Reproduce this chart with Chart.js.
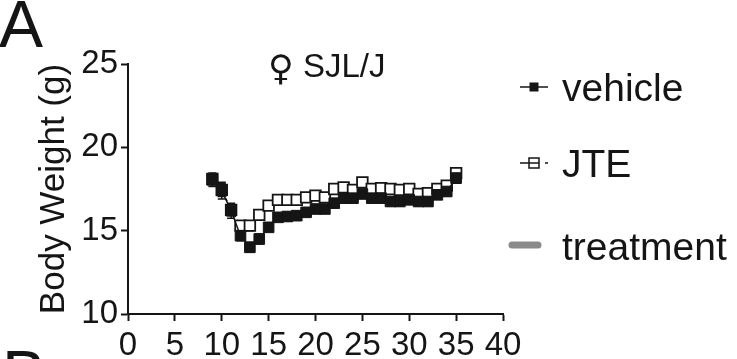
<!DOCTYPE html>
<html>
<head>
<meta charset="utf-8">
<script src="https://cdn.jsdelivr.net/npm/chart.js@4.4.1/dist/chart.umd.min.js"></script>
<style>
  html, body { margin: 0; padding: 0; background: #fff; }
  #wrap { position: relative; width: 737px; height: 359px; overflow: hidden;
          font-family: "Liberation Sans", Arial, sans-serif; color: #151515; }
  canvas { position: absolute; left: 0; top: 0; }
  .panel { position: absolute; font-size: 66px; line-height: 1; }
  .ttl { position: absolute; line-height: 1; white-space: nowrap; }
</style>
</head>
<body>
<div id="wrap">
  <canvas id="grafico" width="737" height="359"></canvas>
  <div class="panel" style="left:-1px; top:-9px">A</div>
  <div class="panel" style="left:2px; top:341px">B</div>
  <div class="ttl" style="left:268px; top:51px; font-size:35px; font-family:'DejaVu Sans'">♀</div>
  <div class="ttl" style="left:303px; top:49px; font-size:33px">SJL/J</div>
</div>
<script>
// dias del experimento
const days = [9, 10, 11, 12, 13, 14, 15, 16, 17, 18, 19, 20, 21, 22, 23, 24, 25, 26, 27, 28, 29, 30, 31, 32, 33, 34, 35];

// peso corporal medio (g)
const vehicle = [18.05, 17.4, 16.2, 14.7, 14.0, 14.5, 15.2, 15.8, 15.85, 15.9, 16.1, 16.3, 16.3, 16.65, 16.95, 16.95, 17.2, 16.95, 16.95, 16.75, 16.75, 16.85, 16.75, 16.75, 17.15, 17.35, 18.15];
const jte = [18.1, 17.45, 16.25, 15.3, 15.3, 15.95, 16.5, 16.85, 16.85, 16.85, 17.0, 17.1, 17.0, 17.5, 17.6, 17.45, 17.9, 17.5, 17.55, 17.5, 17.45, 17.5, 17.2, 17.25, 17.5, 17.7, 18.45];

// error estandar
const vehicleSem = [0.4, 0.5, 0.45, 0.3, 0.3, 0.3, 0.25, 0.25, 0.25, 0.25, 0.25, 0.25, 0.25, 0.25, 0.25, 0.25, 0.25, 0.25, 0.25, 0.25, 0.25, 0.25, 0.25, 0.25, 0.25, 0.25, 0.3];
const jteSem = [0.35, 0.4, 0.35, 0.3, 0.3, 0.25, 0.25, 0.25, 0.25, 0.25, 0.25, 0.25, 0.25, 0.25, 0.25, 0.25, 0.25, 0.25, 0.25, 0.25, 0.25, 0.25, 0.25, 0.25, 0.25, 0.25, 0.25];

const xTicks = [0, 5, 10, 15, 20, 25, 30, 35, 40];
const yTicks = [10, 15, 20, 25];
const legendLabels = ['vehicle', 'JTE', 'treatment'];

const INK = '#151515';
const FONT = '"Liberation Sans", Arial, sans-serif';

// barras de error (media +/- SEM)
const errorBars = {
  id: 'errorBars',
  beforeDatasetDraw(chart, args) {
    const ds = chart.data.datasets[args.index];
    if (!ds.sem) return;
    const ys = chart.scales.y;
    const ctx = chart.ctx;
    ctx.save();
    ctx.strokeStyle = INK;
    ctx.lineWidth = 1.5;
    args.meta.data.forEach((pt, i) => {
      const v = ds.data[i].y;
      const top = ys.getPixelForValue(v + ds.sem[i]);
      const bot = ys.getPixelForValue(v - ds.sem[i]);
      ctx.beginPath();
      ctx.moveTo(pt.x, top); ctx.lineTo(pt.x, bot);
      ctx.moveTo(pt.x - 4, top); ctx.lineTo(pt.x + 4, top);
      ctx.moveTo(pt.x - 4, bot); ctx.lineTo(pt.x + 4, bot);
      ctx.stroke();
    });
    ctx.restore();
  }
};

// leyenda a la derecha
const sideLegend = {
  id: 'sideLegend',
  afterDraw(chart) {
    const ctx = chart.ctx;
    ctx.save();
    ctx.fillStyle = INK;
    ctx.strokeStyle = INK;
    ctx.font = '39px ' + FONT;
    ctx.textBaseline = 'alphabetic';
    ctx.textAlign = 'left';
    ctx.fillText(legendLabels[0], 562, 101);
    ctx.fillText(legendLabels[1], 562, 177);
    ctx.fillText(legendLabels[2], 562, 260);

    // vehicle
    ctx.lineWidth = 1.5;
    ctx.beginPath(); ctx.moveTo(520, 87); ctx.lineTo(548, 87); ctx.stroke();
    ctx.fillRect(529.5, 82.5, 9, 9);

    // JTE
    ctx.beginPath(); ctx.moveTo(520, 163); ctx.lineTo(529, 163); ctx.stroke();
    ctx.fillStyle = '#fff';
    ctx.fillRect(529, 158, 10, 10);
    ctx.strokeRect(529, 158, 10, 10);
    ctx.beginPath(); ctx.moveTo(529, 163); ctx.lineTo(539, 163); ctx.stroke();
    ctx.beginPath(); ctx.moveTo(545, 163); ctx.lineTo(548, 163); ctx.stroke();

    // treatment
    ctx.strokeStyle = '#8a8a8a';
    ctx.lineWidth = 7;
    ctx.lineCap = 'round';
    ctx.beginPath(); ctx.moveTo(512, 245); ctx.lineTo(538, 245); ctx.stroke();
    ctx.restore();
  }
};

const ctx = document.getElementById('grafico').getContext('2d');
new Chart(ctx, {
  type: 'line',
  data: {
    datasets: [
      {
        label: legendLabels[0],
        data: days.map((d, i) => ({ x: d, y: vehicle[i] })),
        sem: vehicleSem,
        borderColor: INK,
        backgroundColor: INK,
        borderWidth: 1.5,
        pointStyle: 'rect',
        pointRadius: 7.5,
        pointBorderWidth: 1,
        pointBackgroundColor: INK,
        pointBorderColor: INK,
        tension: 0,
        order: 1
      },
      {
        label: legendLabels[1],
        data: days.map((d, i) => ({ x: d, y: jte[i] })),
        sem: jteSem,
        borderColor: INK,
        borderWidth: 1.5,
        borderDash: [3, 3],
        pointStyle: 'rect',
        pointRadius: 7.5,
        pointBorderWidth: 1.8,
        pointBackgroundColor: '#fff',
        pointBorderColor: INK,
        tension: 0,
        order: 2
      }
    ]
  },
  options: {
    responsive: false,
    animation: false,
    layout: { padding: { left: 0, top: 64, right: 234, bottom: 0 } },
    plugins: {
      legend: { display: false },
      tooltip: { enabled: false }
    },
    scales: {
      x: {
        type: 'linear',
        min: 0,
        max: 40,
        afterFit: s => { s.height = 45; },
        afterBuildTicks: s => { s.ticks = xTicks.map(v => ({ value: v })); },
        border: { color: INK, width: 2 },
        grid: { drawOnChartArea: false, drawTicks: true, tickLength: 7, tickWidth: 2, tickColor: INK },
        ticks: { color: INK, padding: 5, maxRotation: 0, font: { family: FONT, size: 33 } }
      },
      y: {
        min: 10,
        max: 25,
        afterFit: s => { s.width = 128; },
        afterBuildTicks: s => { s.ticks = yTicks.map(v => ({ value: v })); },
        border: { color: INK, width: 2 },
        grid: { drawOnChartArea: false, drawTicks: true, tickLength: 7, tickWidth: 2, tickColor: INK },
        ticks: { color: INK, padding: 3, font: { family: FONT, size: 33 } },
        title: {
          display: true,
          text: 'Body Weight (g)',
          color: INK,
          padding: { top: 33, bottom: 0 },
          font: { family: FONT, size: 35 }
        }
      }
    }
  },
  plugins: [errorBars, sideLegend]
});
</script>
</body>
</html>
